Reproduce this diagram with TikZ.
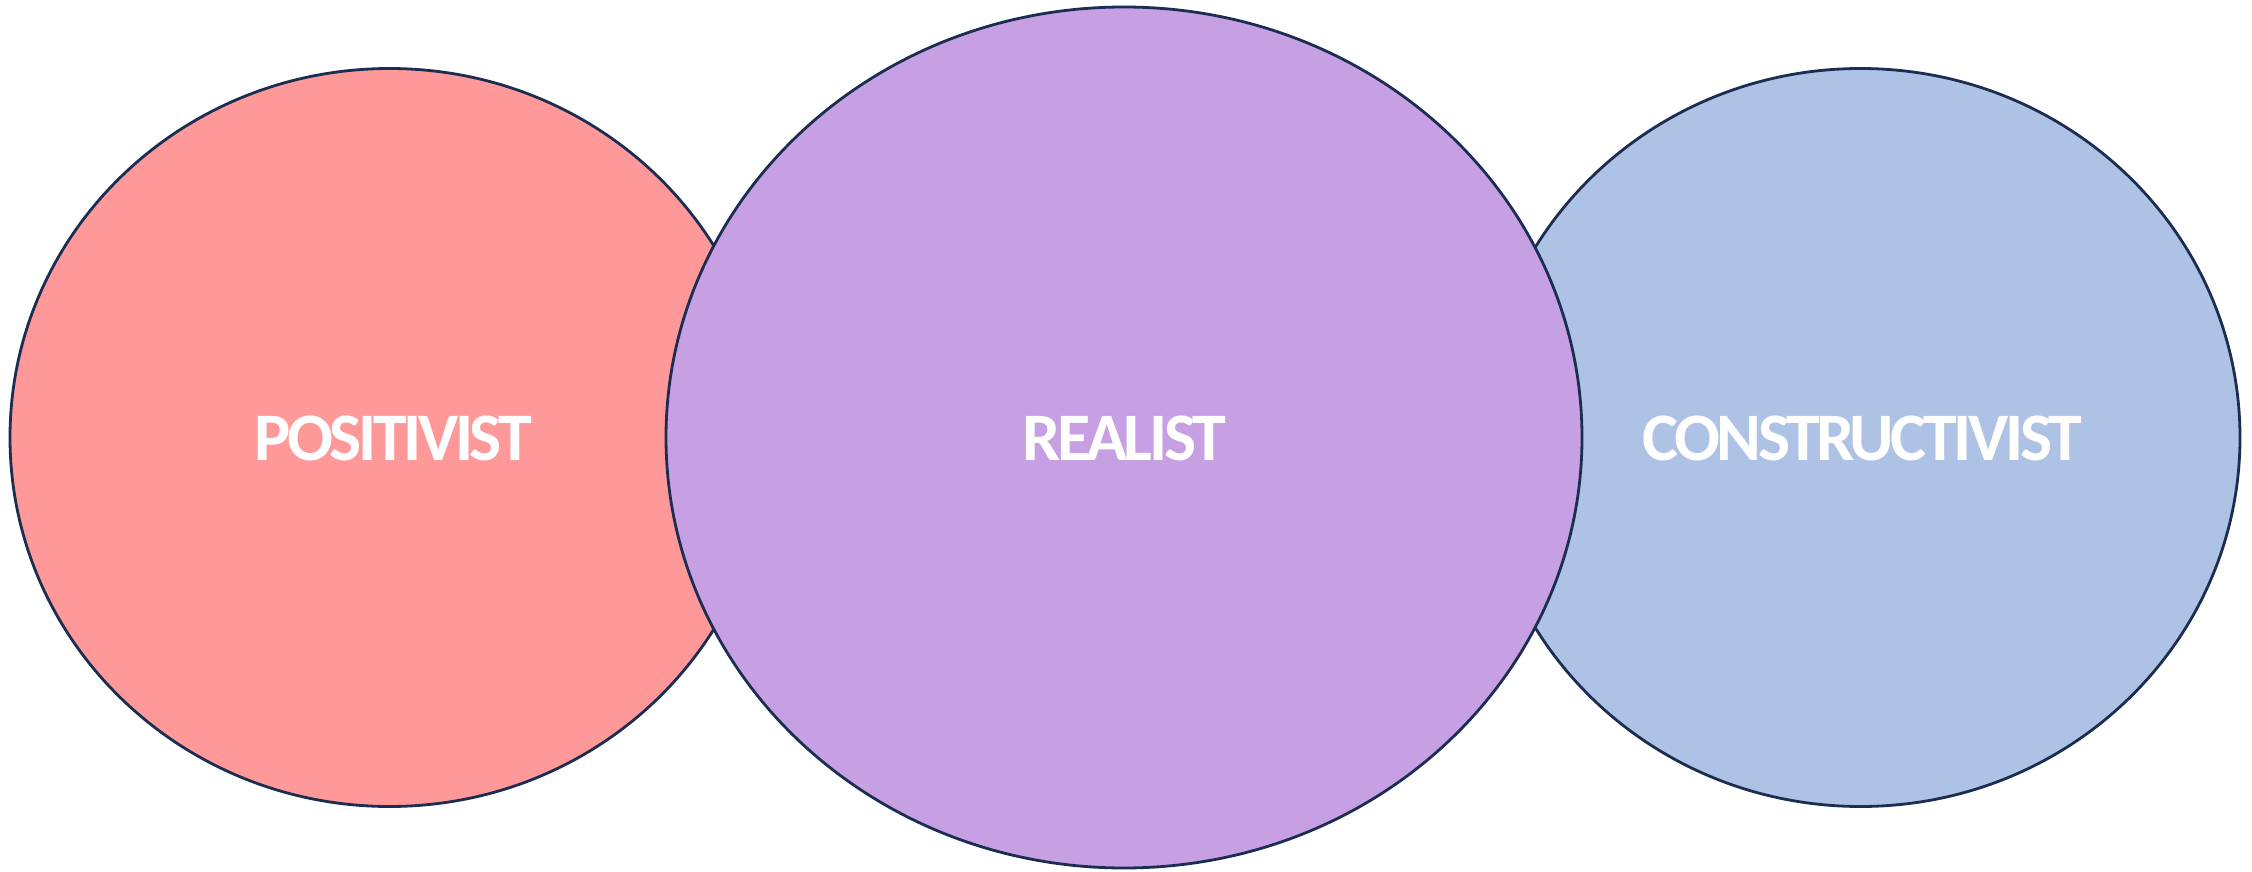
\documentclass[tikz,border=0pt]{standalone}
\usepackage{fontspec}
\newfontfamily\lbl[LetterSpace=-5]{Carlito}
\definecolor{pinkfill}{RGB}{255,153,153}
\definecolor{purplefill}{RGB}{199,160,227}
\definecolor{bluefill}{RGB}{173,194,228}
\definecolor{edgecol}{RGB}{28,45,82}
\begin{document}
\begin{tikzpicture}[x=1pt,y=-1pt,
  blob/.style={draw=edgecol,line width=2.8pt},
  lbltext/.style={text=white,font=\lbl\fontsize{68}{80}\selectfont\bfseries,anchor=base,inner sep=0pt}]
\useasboundingbox (0,0) rectangle (2252,872);
\fill[white] (0,0) rectangle (2252,872);
\path[blob,fill=pinkfill] (389.5,437.5) ellipse [x radius=379.5pt, y radius=369pt];
\path[blob,fill=bluefill] (1860.5,437.5) ellipse [x radius=379.5pt, y radius=369pt];
\path[blob,fill=purplefill] (1124,437.5) ellipse [x radius=458pt, y radius=430.5pt];
\node[lbltext] (pos) at (393,460.5) {POSITIVIST};
\node[lbltext] (real) at (1124,460.5) {REALIST};
\node[lbltext] (cons) at (1862,460.5) {CONSTRUCTIVIST};
\end{tikzpicture}
\end{document}
